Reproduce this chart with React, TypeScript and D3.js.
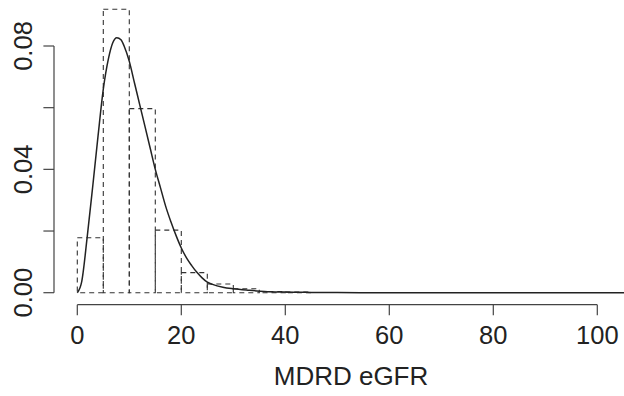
import { useRef, useEffect } from 'react'
import * as d3 from 'd3'

// histogram bins (width 5) and their density heights
const binStarts = [0, 5, 10, 15, 20, 25, 30, 35, 40]
const binHeights = [0.0178, 0.0919, 0.0597, 0.0203, 0.0065, 0.0028, 0.0013, 0.0004, 0.0002]
const BIN_W = 5

// kernel density curve
const densX = [0, 0.85, 1.9, 3, 4, 5, 6, 6.8, 7.6, 8.4, 9, 10, 11, 12, 13, 14, 15, 16, 17, 18, 19, 20, 21, 22, 23, 24, 25, 26, 28, 30, 33, 36, 40, 45, 50, 60, 80, 108]
const densY = [0, 0.0036, 0.018, 0.035, 0.051, 0.066, 0.076, 0.081, 0.0827, 0.082, 0.080, 0.075, 0.068, 0.061, 0.054, 0.047, 0.040, 0.034, 0.028, 0.023, 0.0185, 0.0145, 0.0113, 0.0088, 0.0066, 0.0048, 0.0034, 0.0027, 0.0018, 0.0013, 0.0008, 0.0004, 0.0002, 0.0001, 0.00004, 0, 0, 0]

const xTicks = [0, 20, 40, 60, 80, 100]
const yTicks = [0, 0.02, 0.04, 0.06, 0.08]
const yLabels = [0, 0.04, 0.08]

const FONT = 'Liberation Sans, Arial, sans-serif'
const INK = '#222'

export default function App() {
  const svgRef = useRef<SVGSVGElement | null>(null)

  useEffect(() => {
    const el = svgRef.current
    if (!el) return
    const W = 624, H = 396
    d3.select(el).selectAll('*').remove()
    const svg = d3.select(el).attr('width', W).attr('height', H)

    const x = d3.scaleLinear().domain([0, 100]).range([77.3, 597.3])
    const y = d3.scaleLinear().domain([0, 0.08]).range([292.7, 46])

    // histogram, dashed outlines
    svg.selectAll('.bin')
      .data(binStarts)
      .join('rect')
      .attr('x', d => x(d))
      .attr('y', (d, i) => y(binHeights[i]))
      .attr('width', d => x(d + BIN_W) - x(d))
      .attr('height', (d, i) => y(0) - y(binHeights[i]))
      .attr('fill', 'none')
      .attr('stroke', '#333')
      .attr('stroke-width', 1.1)
      .attr('stroke-dasharray', '5,4')

    // density curve
    const pts = densX.map((v, i) => [v, densY[i]] as [number, number])
    const line = d3.line<[number, number]>().x(d => x(d[0])).y(d => y(d[1])).curve(d3.curveMonotoneX)
    svg.append('path')
      .attr('d', line(pts))
      .attr('fill', 'none')
      .attr('stroke', INK)
      .attr('stroke-width', 1.5)

    // x axis
    const axY = 304.7
    svg.append('line')
      .attr('x1', x(0)).attr('x2', x(100)).attr('y1', axY).attr('y2', axY)
      .attr('stroke', '#444').attr('stroke-width', 1.2)
    svg.selectAll('.xt')
      .data(xTicks)
      .join('line')
      .attr('x1', d => x(d)).attr('x2', d => x(d))
      .attr('y1', axY).attr('y2', axY + 10.6)
      .attr('stroke', '#444').attr('stroke-width', 1.2)
    svg.selectAll('.xl')
      .data(xTicks)
      .join('text')
      .attr('x', d => x(d)).attr('y', 344)
      .attr('text-anchor', 'middle')
      .attr('font-size', 25.5).attr('font-family', FONT).attr('fill', INK)
      .text(d => String(d))
    svg.append('text')
      .attr('x', 351).attr('y', 385)
      .attr('text-anchor', 'middle')
      .attr('font-size', 26).attr('font-family', FONT).attr('fill', INK)
      .text('MDRD eGFR')

    // y axis
    const axX = 54
    svg.append('line')
      .attr('x1', axX).attr('x2', axX).attr('y1', y(0)).attr('y2', y(0.08))
      .attr('stroke', '#444').attr('stroke-width', 1.2)
    svg.selectAll('.yt')
      .data(yTicks)
      .join('line')
      .attr('x1', axX - 10.6).attr('x2', axX)
      .attr('y1', d => y(d)).attr('y2', d => y(d))
      .attr('stroke', '#444').attr('stroke-width', 1.2)
    svg.selectAll('.yl')
      .data(yLabels)
      .join('text')
      .attr('transform', d => `translate(31.7,${y(d)}) rotate(-90)`)
      .attr('text-anchor', 'middle')
      .attr('font-size', 25.5).attr('font-family', FONT).attr('fill', INK)
      .text(d => d3.format('.2f')(d))
  }, [])

  return (
    <div style={{ position: 'absolute', left: 0, top: 0, width: 624, height: 396, background: '#fff' }}>
      <svg ref={svgRef} style={{ display: 'block' }} />
    </div>
  )
}
